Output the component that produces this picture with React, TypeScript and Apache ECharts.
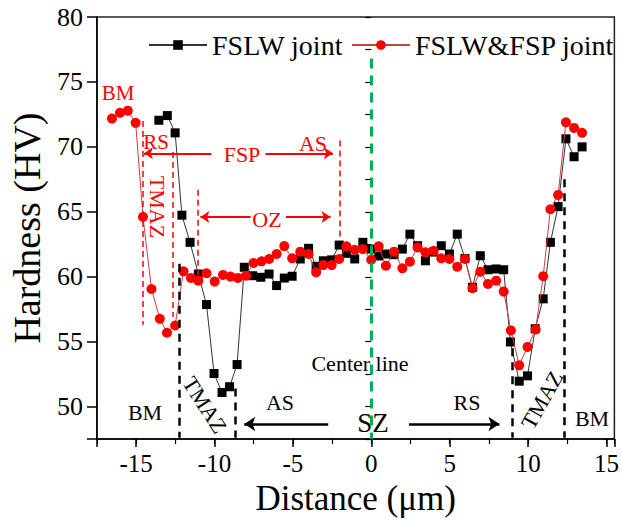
import React, { useEffect, useRef } from "react";
import * as echarts from "echarts";

// ---- data ----
const blackX = [-13.55, -13.01, -12.51, -12.08, -11.56, -11.03, -10.51, -10.03, -9.52, -9.04, -8.56, -8.1, -7.57, -7.05, -6.52, -6.04, -5.55, -5.05, -4.53, -4.0, -3.52, -3.06, -2.53, -2.05, -1.59, -1.06, -0.54, -0.01, 0.47, 0.93, 1.45, 1.98, 2.46, 2.95, 3.45, 3.97, 4.46, 4.98, 5.48, 5.97, 6.45, 6.95, 7.44, 7.96, 8.44, 8.87, 9.43, 9.96, 10.45, 10.96, 11.42, 11.91, 12.41, 12.93, 13.44];
const blackY = [72.05, 72.41, 71.08, 64.74, 62.65, 60.21, 57.86, 52.55, 51.09, 51.53, 53.24, 60.73, 60.08, 59.96, 60.21, 59.32, 59.9, 60.04, 61.37, 62.19, 60.8, 61.23, 61.3, 62.44, 61.8, 61.37, 62.65, 62.13, 61.6, 61.75, 61.7, 62.13, 63.28, 62.39, 61.23, 61.9, 62.39, 61.75, 63.28, 61.4, 59.19, 61.62, 60.54, 60.6, 60.54, 54.98, 51.96, 52.37, 56.0, 58.3, 62.65, 65.4, 70.62, 69.24, 70.0];

const redX = [-16.54, -16.03, -15.53, -15.03, -14.56, -14.02, -13.49, -13.03, -12.51, -11.98, -11.5, -11.03, -10.51, -9.99, -9.46, -8.98, -8.51, -7.99, -7.51, -7.0, -6.52, -6.04, -5.55, -5.05, -4.53, -4.0, -3.52, -3.06, -2.53, -2.05, -1.59, -1.06, -0.54, -0.01, 0.47, 0.93, 1.45, 1.98, 2.46, 2.95, 3.45, 3.97, 4.46, 4.98, 5.48, 5.97, 6.45, 6.95, 7.44, 7.96, 8.44, 8.9, 9.43, 9.96, 10.48, 10.96, 11.42, 11.91, 12.41, 12.93, 13.44];
const redY = [72.18, 72.62, 72.79, 71.85, 64.61, 59.06, 56.76, 55.69, 56.25, 60.42, 59.91, 59.7, 60.27, 59.63, 60.14, 60.01, 59.91, 60.08, 61.06, 61.19, 61.37, 61.75, 62.36, 61.42, 61.93, 61.75, 60.34, 60.9, 60.9, 61.37, 62.34, 62.08, 62.13, 61.31, 62.34, 60.85, 61.93, 60.65, 61.16, 62.26, 61.88, 62.0, 61.42, 61.37, 60.77, 61.37, 59.12, 60.39, 59.45, 59.7, 58.86, 55.87, 53.18, 54.6, 55.94, 60.04, 65.2, 66.3, 71.89, 71.46, 71.08];

const seriesNames = ["FSLW joint", "FSLW&FSP joint"];
const xRange = [-17.5, 15.5];
const yRange = [47.5, 80];

// zone boundary lines: [x, yTop, yBottom]
const centerLine = [0, 76.8, 47.5];
const redZoneLines = [
  [-14.6, 72.0, 56.3],
  [-12.65, 69.6, 56.9],
  [-11.07, 66.7, 60.0],
  [-2.0, 70.5, 62.9],
];
const blackZoneLines = [
  [-12.23, 61.0, 47.6],
  [-8.68, 51.4, 47.6],
  [8.97, 54.5, 47.6],
  [12.33, 67.5, 47.6],
];
// arrows: [xFrom, xTo, y]
const redArrows = [
  [-10.2, -14.5, 69.5],
  [-6.75, -2.45, 69.5],
  [-7.7, -10.9, 64.6],
  [-5.45, -2.6, 64.6],
];
const blackArrows = [
  [-2.75, -8.1, 48.66],
  [2.4, 8.17, 48.66],
];

const FONT = "'Liberation Serif', 'Times New Roman', serif";
const RED = "#ff0000";

function zip(xs: number[], ys: number[]) {
  return xs.map((x, i) => [x, ys[i]]);
}

export default function App() {
  const ref = useRef<HTMLDivElement>(null);
  useEffect(() => {
    if (!ref.current) return;
    const chart = echarts.init(ref.current, null, { renderer: "svg" });

    const vline = (l: number[], color: string, width: number, dash: number[]) => [
      { coord: [l[0], l[1]], symbol: "none", lineStyle: { color, width, type: dash } },
      { coord: [l[0], l[2]], symbol: "none" },
    ];
    const arrow = (a: number[], color: string, width: number, size: number) => [
      { coord: [a[0], a[2]], symbol: "none", lineStyle: { color, width, type: "solid" } },
      { coord: [a[1], a[2]], symbol: "arrow", symbolSize: size },
    ];

    const markData = [
      vline(centerLine, "#00b050", 3, [10, 7]),
      ...redZoneLines.map((l) => vline(l, RED, 1.5, [6, 4])),
      ...blackZoneLines.map((l) => vline(l, "#000", 2.5, [8, 6])),
      ...redArrows.map((a) => arrow(a, RED, 2, 9)),
      ...blackArrows.map((a) => arrow(a, "#000", 2.5, 11)),
    ];

    const txt = (t: string, x: number, y: number, color: string, size: number, rot = 0) => ({
      type: "text",
      x,
      y,
      rotation: rot,
      silent: true,
      style: {
        text: t,
        fill: color,
        fontSize: size,
        fontFamily: FONT,
        align: "center",
        verticalAlign: "middle",
      },
    });

    const option: any = {
      animation: false,
      grid: {
        left: 94,
        right: 4,
        top: 17,
        bottom: 81,
        show: true,
        borderColor: "#222",
        borderWidth: 1.5,
        backgroundColor: "transparent",
      },
      legend: {
        data: seriesNames,
        left: 143,
        top: 26,
        itemWidth: 58,
        itemHeight: 12,
        itemGap: 8,
        textStyle: { fontSize: 28, fontFamily: FONT, color: "#000" },
      },
      xAxis: [
        {
          type: "value",
          min: xRange[0],
          max: xRange[1],
          splitNumber: 5,
          name: "Distance (\u03bcm)",
          nameLocation: "middle",
          nameGap: 36,
          nameTextStyle: { fontSize: 35, fontFamily: FONT, color: "#000" },
          axisLine: { onZero: false, lineStyle: { color: "#000", width: 1.5 } },
          axisTick: { length: 8, lineStyle: { color: "#000", width: 1.5 } },
          axisLabel: {
            fontSize: 25,
            fontFamily: FONT,
            color: "#000",
            margin: 12,
            formatter: (v: number) => (Math.abs(v % 5) < 1e-9 ? String(v) : ""),
          },
          splitLine: { show: false },
        },
        {
          type: "value",
          min: xRange[0],
          max: xRange[1],
          interval: 2.5,
          position: "bottom",
          axisLine: { show: false },
          axisTick: { length: 5, lineStyle: { color: "#000", width: 1.2 } },
          axisLabel: { show: false },
          splitLine: { show: false },
        },
      ],
      yAxis: [
        {
          type: "value",
          min: yRange[0],
          max: yRange[1],
          splitNumber: 5,
          name: "Hardness (HV)",
          nameLocation: "middle",
          nameGap: 48,
          nameTextStyle: { fontSize: 38, fontFamily: FONT, color: "#000" },
          axisLine: { onZero: false, lineStyle: { color: "#000", width: 1.5 } },
          axisTick: { length: 10, lineStyle: { color: "#000", width: 1.5 } },
          axisLabel: {
            fontSize: 26,
            fontFamily: FONT,
            color: "#000",
            margin: 14,
            formatter: (v: number) => (Math.abs(v % 5) < 1e-9 ? String(v) : ""),
          },
          splitLine: { show: false },
        },
        {
          type: "value",
          min: yRange[0],
          max: yRange[1],
          interval: 2.5,
          position: "left",
          axisLine: { show: false },
          axisTick: { length: 6, lineStyle: { color: "#000", width: 1.2 } },
          axisLabel: { show: false },
          splitLine: { show: false },
        },
      ],
      series: [
        {
          name: "annotations",
          type: "line",
          data: [],
          z: 1,
          silent: true,
          markLine: {
            silent: true,
            symbol: ["none", "none"],
            label: { show: false },
            emphasis: { disabled: true },
            data: markData,
          },
        },
        {
          name: seriesNames[0],
          type: "line",
          data: zip(blackX, blackY),
          symbol: "rect",
          symbolSize: 9,
          itemStyle: { color: "#000" },
          lineStyle: { color: "#333", width: 1 },
          z: 3,
        },
        {
          name: seriesNames[1],
          type: "line",
          data: zip(redX, redY),
          symbol: "circle",
          symbolSize: 10,
          itemStyle: { color: RED },
          lineStyle: { color: "#c84040", width: 1 },
          z: 4,
        },
      ],
      graphic: [
        txt("BM", 118, 93, RED, 21),
        txt("RS", 156, 142, RED, 21),
        txt("FSP", 242, 154, RED, 22),
        txt("AS", 313, 143, RED, 22),
        txt("OZ", 267, 219, RED, 22),
        txt("TMAZ", 157, 207, RED, 22, -Math.PI / 2),
        txt("BM", 145, 412, "#000", 22),
        txt("TMAZ", 205, 405, "#000", 22, -1.0),
        txt("AS", 280, 402, "#000", 22),
        txt("Center line", 360, 363, "#000", 22),
        txt("SZ", 373, 423, "#000", 27),
        txt("RS", 467, 402, "#000", 22),
        txt("TMAZ", 542, 400, "#000", 22, 1.06),
        txt("BM", 592, 418, "#000", 22),
      ],
    };
    chart.setOption(option);
    return () => chart.dispose();
  }, []);
  return (
    <div
      ref={ref}
      style={{ position: "fixed", left: 0, top: 0, width: 622, height: 521, background: "#fff" }}
    />
  );
}
